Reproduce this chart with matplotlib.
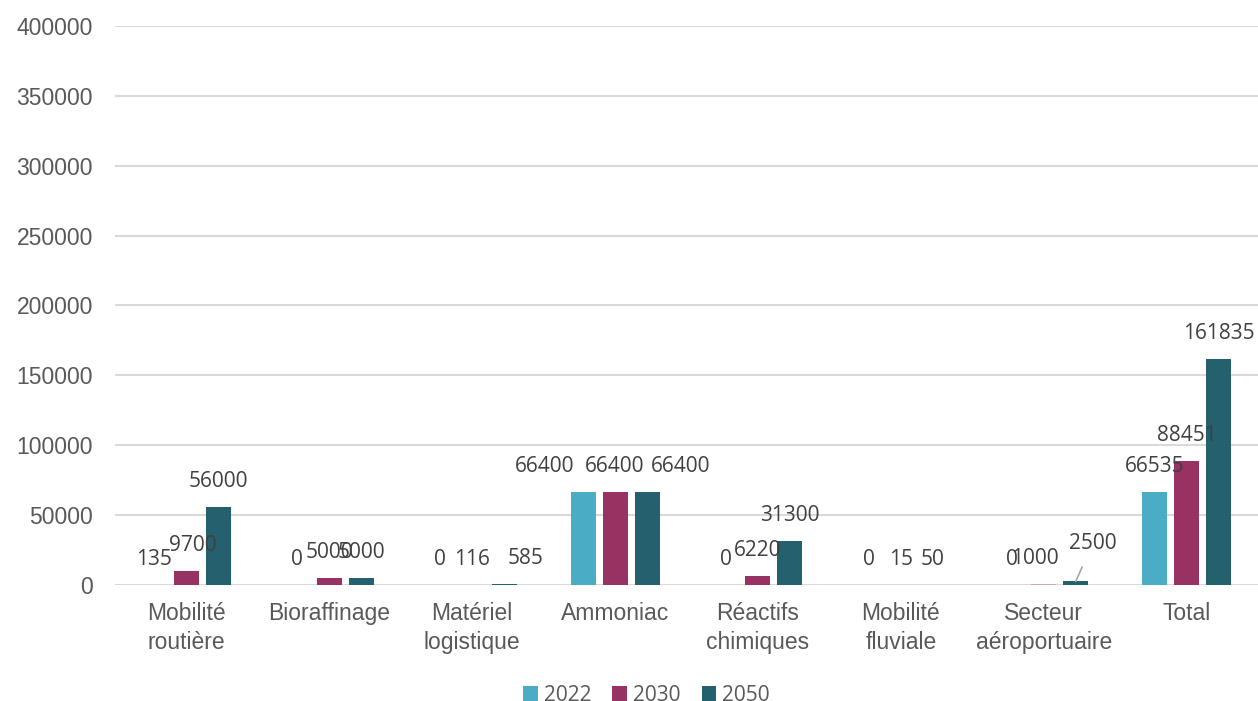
import matplotlib.pyplot as plt
import numpy as np

categories = ["Mobilité\nroutière", "Bioraffinage", "Matériel\nlogistique", "Ammoniac",
              "Réactifs\nchimiques", "Mobilité\nfluviale", "Secteur\naéroportuaire", "Total"]
years = ["2022", "2030", "2050"]
v2022 = [135, 0, 0, 66400, 0, 0, 0, 66535]
v2030 = [9700, 5000, 116, 66400, 6220, 15, 1000, 88451]
v2050 = [56000, 5000, 585, 66400, 31300, 50, 2500, 161835]
yticks = [0, 50000, 100000, 150000, 200000, 250000, 300000, 350000, 400000]

colors = ["#4BACC6", "#983262", "#24606E"]

# decalages des etiquettes (pixels) pour eviter les chevauchements
dx = {(0, 1): 6, (2, 2): 21, (3, 0): -38, (3, 2): 34, (6, 1): -9}

fig = plt.figure(figsize=(12.58, 7.01), dpi=100)
ax = fig.add_axes([0.0914, 0.1655, 0.9086, 0.7974])

x = np.arange(len(categories))
w = 0.175
step = 0.224
series = [v2022, v2030, v2050]
for i, vals in enumerate(series):
    pos = x + (i - 1) * step
    bar_colors = [colors[i]] * len(vals)
    if i == 1:
        bar_colors[6] = "#D9A3BA"  # barre aeroportuaire 2030 plus claire
    ax.bar(pos, vals, width=w, color=bar_colors, label=years[i], zorder=3)
    for j, v in enumerate(vals):
        if (j, i) == (6, 2):
            ax.annotate(f"{v}", xy=(pos[j], v), xytext=(17, 38), textcoords="offset pixels",
                        ha="center", va="center", fontsize=15, family="Open Sans", color="#404040",
                        zorder=5,
                        arrowprops=dict(arrowstyle="-", color="#A6A6A6", lw=1.2,
                                        shrinkA=8, shrinkB=0))
            continue
        ax.annotate(f"{v}", xy=(pos[j], v), xytext=(dx.get((j, i), 0), 15),
                    textcoords="offset pixels", ha="center", va="bottom",
                    fontsize=15, family="Open Sans", color="#404040", zorder=5)

ax.set_xlim(-0.5, len(categories) - 0.5)
ax.set_ylim(0, 400000)
ax.set_yticks(yticks)
ax.set_yticklabels([str(t) for t in yticks])
ax.set_xticks(x)
ax.set_xticklabels(categories, linespacing=1.35)
ax.tick_params(axis="y", length=0, pad=16, labelsize=16.5, labelcolor="#595959")
ax.tick_params(axis="x", length=0, pad=12, labelsize=16.5, labelcolor="#595959")
for lab in ax.get_xticklabels() + ax.get_yticklabels():
    lab.set_family("Liberation Sans")
ax.grid(axis="y", color="#D9D9D9", lw=1.5, zorder=0)
for s in ax.spines.values():
    s.set_visible(False)

fig.legend(loc="center", bbox_to_anchor=(0.514, 0.008), ncol=3, frameon=False,
           prop={"family": "Open Sans", "size": 15}, labelcolor="#595959",
           handlelength=0.7, handleheight=0.7, handletextpad=0.3, columnspacing=1.0)

fig.savefig("out.png", dpi=100)
